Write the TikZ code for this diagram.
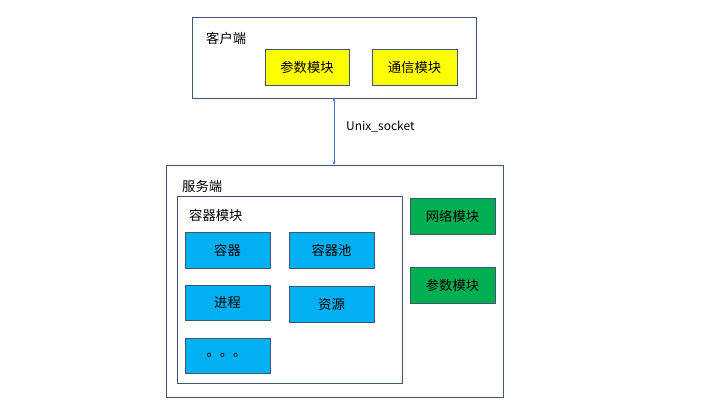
\documentclass[tikz,border=0pt]{standalone}
\usepackage{fontspec}
\setmainfont{Noto Sans CJK SC}
\newfontfamily\cjk{Noto Sans CJK SC}
\usetikzlibrary{arrows.meta}
\definecolor{edge}{HTML}{3E5778}
\definecolor{arrowc}{HTML}{4472C4}
\definecolor{ylw}{HTML}{FFFF00}
\definecolor{blu}{HTML}{00B0F0}
\definecolor{grn}{HTML}{00B050}
\tikzset{
  outer/.style={draw=edge, line width=0.8pt, fill=white},
  modbox/.style={draw=edge, line width=0.8pt, font=\cjk\fontsize{13.3}{15}\selectfont},
  lbl/.style={font=\cjk\fontsize{13.3}{15}\selectfont, anchor=west, inner sep=0pt},
}
\begin{document}
\begin{tikzpicture}[x=1pt,y=-1pt]
\useasboundingbox (0,0) rectangle (720,405);
% client
\draw[outer] (192,17) rectangle (476,98);
\node[lbl] (client) at (206,38) {客户端};
\draw[modbox,fill=ylw] (265,49) rectangle (349,85) node[midway] (cparam) {参数模块};
\draw[modbox,fill=ylw] (372,49) rectangle (457,85) node[midway] (ccomm) {通信模块};
% server
\draw[outer] (166,165) rectangle (503,397);
\node[lbl] (server) at (182,186) {服务端};
\draw[outer] (177,196) rectangle (402,383);
\node[lbl] (cmod) at (189,215) {容器模块};
\draw[modbox,fill=blu] (185,232) rectangle (270,268) node[midway] (c1) {容器};
\draw[modbox,fill=blu] (289,232) rectangle (374,268) node[midway] (c2) {容器池};
\draw[modbox,fill=blu] (185,285) rectangle (270,320) node[midway] (c3) {进程};
\draw[modbox,fill=blu] (289,286) rectangle (374,322) node[midway] (c4) {资源};
\draw[modbox,fill=blu] (185,338) rectangle (270,373) node[midway,xshift=-1pt] (c5) {。。。};
\draw[modbox,fill=grn] (410,198) rectangle (495,234) node[midway] (net) {网络模块};
\draw[modbox,fill=grn] (410,267) rectangle (495,303) node[midway] (sparam) {参数模块};
% connector
\coordinate (top) at (334,98);
\coordinate (bot) at (334,165);
\draw[arrowc, line width=0.6pt, {Stealth[length=3.5pt,width=3pt]}-{Stealth[length=3.5pt,width=3pt]}] (top) -- (bot);
\node[font=\cjk\fontsize{12}{14}\selectfont, anchor=west, inner sep=0pt] (sock) at (346,127) {Unix\_socket};
\end{tikzpicture}
\end{document}
